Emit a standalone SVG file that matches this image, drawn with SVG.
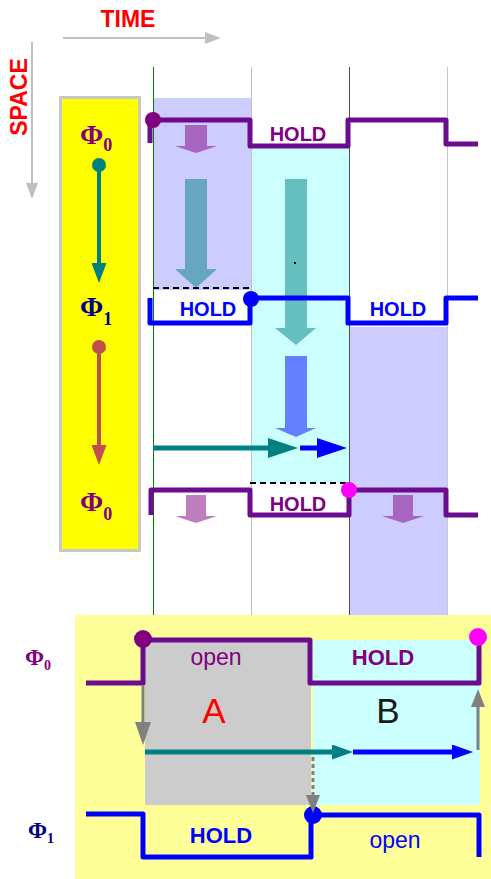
<svg xmlns="http://www.w3.org/2000/svg" width="491" height="879" viewBox="0 0 491 879">
<defs>
<style>
.sans{font-family:"Liberation Sans",Arial,sans-serif}
.serif{font-family:"Liberation Serif","Times New Roman",serif;font-weight:bold}
.hold{font-family:"Liberation Sans",Arial,sans-serif;font-weight:bold;text-anchor:middle}
.open{font-family:"Liberation Sans",Arial,sans-serif;text-anchor:middle;font-size:23px}
.wave{fill:none;stroke-linejoin:round;stroke-linecap:butt}
.pur{stroke:#6c0a90;stroke-width:5}
.blu{stroke:#0000ff;stroke-width:5}
.vl{stroke-width:1;fill:none}
</style>
<marker id="hAxisX" markerUnits="userSpaceOnUse" markerWidth="16" markerHeight="12" viewBox="0 0 16 12" refX="0" refY="6" orient="auto"><path d="M0,0 L16,6 L0,12 z" fill="#c0c0c0"/></marker>
<marker id="hTeal" markerUnits="userSpaceOnUse" markerWidth="30" markerHeight="20" viewBox="0 0 30 20" refX="0" refY="10" orient="auto"><path d="M0,0 L30,10 L0,20 z" fill="#008080"/></marker>
<marker id="hBlue" markerUnits="userSpaceOnUse" markerWidth="30" markerHeight="20" viewBox="0 0 30 20" refX="0" refY="10" orient="auto"><path d="M0,0 L30,10 L0,20 z" fill="#0000ff"/></marker>
<marker id="hTealS" markerUnits="userSpaceOnUse" markerWidth="21" markerHeight="15" viewBox="0 0 21 15" refX="0" refY="7.5" orient="auto"><path d="M0,0 L21,7.5 L0,15 z" fill="#008080"/></marker>
<marker id="hBlueS" markerUnits="userSpaceOnUse" markerWidth="21" markerHeight="15" viewBox="0 0 21 15" refX="0" refY="7.5" orient="auto"><path d="M0,0 L21,7.5 L0,15 z" fill="#0000ff"/></marker>
<marker id="hTealV" markerUnits="userSpaceOnUse" markerWidth="20" markerHeight="15" viewBox="0 0 20 15" refX="0" refY="7.5" orient="auto"><path d="M0,0 L20,7.5 L0,15 z" fill="#008080"/></marker>
<marker id="hRed" markerUnits="userSpaceOnUse" markerWidth="20" markerHeight="15" viewBox="0 0 20 15" refX="0" refY="7.5" orient="auto"><path d="M0,0 L20,7.5 L0,15 z" fill="#c0504d"/></marker>
<marker id="hGray" markerUnits="userSpaceOnUse" markerWidth="23" markerHeight="16" viewBox="0 0 23 16" refX="0" refY="8" orient="auto"><path d="M0,0 L23,8 L0,16 z" fill="#808080"/></marker>
<marker id="hGrayS" markerUnits="userSpaceOnUse" markerWidth="18" markerHeight="14" viewBox="0 0 18 14" refX="0" refY="7" orient="auto"><path d="M0,0 L18,7 L0,14 z" fill="#808080"/></marker>
</defs>
<rect width="491" height="879" fill="#ffffff"/>

<g id="axes">
<text class="sans" x="128" y="27" font-size="23" font-weight="bold" fill="#ff0000" text-anchor="middle">TIME</text>
<text class="sans" transform="translate(27,97) rotate(-90)" font-size="23" font-weight="bold" fill="#ff0000" text-anchor="middle">SPACE</text>
</g>

<g id="regions">
<rect x="153" y="98" width="98" height="192" fill="#ccccff"/>
<rect x="251" y="146" width="98" height="337" fill="#ccffff"/>
<rect x="349" y="327" width="98" height="288" fill="#ccccff"/>
</g>

<g id="timelines">
<line class="vl" x1="153.5" y1="67" x2="153.5" y2="615" stroke="#008000"/>
<line class="vl" x1="251.5" y1="67" x2="251.5" y2="615" stroke="#c0c0c0"/>
<line class="vl" x1="349.5" y1="67" x2="349.5" y2="615" stroke="#505050"/>
<line class="vl" x1="447.5" y1="67" x2="447.5" y2="615" stroke="#c8c8c8"/>
</g>

<g id="legend-box">
<rect x="60.5" y="97.5" width="79" height="453" fill="#ffff00" stroke="#c8c8c8" stroke-width="3"/>
<text class="serif" x="80" y="144" font-size="28" fill="#800080">Φ<tspan font-size="18" dy="7">0</tspan></text>
<text class="serif" x="80" y="316" font-size="28" fill="#000080">Φ<tspan font-size="18" dy="9">1</tspan></text>
<text class="serif" x="80" y="511" font-size="28" fill="#800080">Φ<tspan font-size="18" dy="9">0</tspan></text>
<circle cx="99" cy="165" r="7" fill="#008080"/>
<circle cx="99" cy="347" r="7" fill="#c0504d"/>
</g>

<g id="block-arrows">
<polygon points="185,125 207,125 207,146 217,146 196,153 175,146 185,146" fill="#800080" fill-opacity="0.5"/>
<polygon points="185,179 207,179 207,269 217,269 196,288 175,269 185,269" fill="#008080" fill-opacity="0.5"/>
<polygon points="285,179 307,179 307,328 316,328 296,345 275,328 285,328" fill="#008080" fill-opacity="0.5"/>
<polygon points="285,356 307,356 307,428 316,428 296,437 275,428 285,428" fill="#0000ff" fill-opacity="0.5"/>
<polygon points="186,495 206,495 206,516 217,516 196,523 175,516 186,516" fill="#800080" fill-opacity="0.5"/>
<polygon points="393,495 413,495 413,516 424,516 403,523 382,516 393,516" fill="#800080" fill-opacity="0.5"/>
<rect x="294" y="262" width="2" height="2" fill="#000000"/>
</g>

<g id="phi0-top">
<path class="wave pur" d="M150,143 V120 H250 V146 H348 V120 H446 V144 H478"/>
<circle cx="153" cy="120" r="8" fill="#800080"/>
<text class="hold" x="298" y="141" font-size="20" fill="#800080">HOLD</text>
</g>

<g id="phi1-mid">
<line x1="153" y1="288" x2="250" y2="288" stroke="#000000" stroke-width="2" stroke-dasharray="6,4"/>
<path class="wave blu" d="M150,298 V323 H250 V298 H348 V323 H446 V298 H478"/>
<circle cx="251" cy="299" r="8" fill="#0000ff"/>
<text class="hold" x="208" y="316" font-size="20" fill="#0000ff">HOLD</text>
<text class="hold" x="398" y="316" font-size="20" fill="#0000ff">HOLD</text>
</g>

<g id="phi0-bottom">
<line x1="250" y1="483" x2="349" y2="483" stroke="#000000" stroke-width="2" stroke-dasharray="6,4"/>
<path class="wave pur" d="M151,515 V490 H250 V515 H349 V490 H446 V515 H478"/>
<circle cx="349" cy="490" r="8" fill="#ff00ff"/>
<text class="hold" x="298" y="511" font-size="20" fill="#800080">HOLD</text>
</g>

<g id="panel">
<rect x="75" y="615" width="416" height="264" fill="#ffff99"/>
<rect x="145" y="641" width="166" height="164" fill="#cccccc"/>
<rect x="313" y="640" width="167" height="165" fill="#ccffff"/>
<text class="serif" x="25" y="665" font-size="23" fill="#800080">Φ<tspan font-size="14" dy="5">0</tspan></text>
<text class="serif" x="28" y="838" font-size="23" fill="#000080">Φ<tspan font-size="14" dy="5">1</tspan></text>
<text class="sans" x="214" y="723" font-size="35" fill="#ff0000" text-anchor="middle">A</text>
<text class="sans" x="388" y="723" font-size="35" fill="#1a1a1a" text-anchor="middle">B</text>
</g>

<g id="panel-phi0">
<path class="wave pur" d="M86,683 H143 V640 H310 V683 H479 V637"/>
<circle cx="143" cy="639" r="9" fill="#800080"/>
<circle cx="478" cy="637" r="9" fill="#ff00ff"/>
<text class="open" x="216" y="665" fill="#800080">open</text>
<text class="hold" x="383" y="665" font-size="22" fill="#800080">HOLD</text>
</g>

<g id="panel-phi1">
<path class="wave blu" d="M86,814 H143 V857 H311 V815 H479 V857"/>
<circle cx="313" cy="815" r="9" fill="#0000ff"/>
<text class="hold" x="221" y="843" font-size="22" fill="#0000ff">HOLD</text>
<text class="open" x="395" y="848" fill="#0000ff">open</text>
</g>

<g id="connectors" fill="none">
<line x1="63" y1="38" x2="205" y2="38" stroke="#c0c0c0" stroke-width="2" marker-end="url(#hAxisX)"/>
<line x1="32" y1="42" x2="32" y2="183" stroke="#c0c0c0" stroke-width="2" marker-end="url(#hAxisX)"/>
<line x1="99" y1="165" x2="99" y2="263" stroke="#008080" stroke-width="4" marker-end="url(#hTealV)"/>
<line x1="99" y1="347" x2="99" y2="445" stroke="#c0504d" stroke-width="4" marker-end="url(#hRed)"/>
<line x1="153" y1="448" x2="268" y2="448" stroke="#008080" stroke-width="5" marker-end="url(#hTeal)"/>
<line x1="300" y1="448" x2="317" y2="448" stroke="#0000ff" stroke-width="5" marker-end="url(#hBlue)"/>
<line x1="143" y1="685" x2="143" y2="722" stroke="#808080" stroke-width="3" marker-end="url(#hGray)"/>
<line x1="145" y1="752" x2="332" y2="752" stroke="#008080" stroke-width="5" marker-end="url(#hTealS)"/>
<line x1="353" y1="752" x2="452" y2="752" stroke="#0000ff" stroke-width="5" marker-end="url(#hBlueS)"/>
<line x1="478" y1="750" x2="478" y2="707" stroke="#808080" stroke-width="3" marker-end="url(#hGrayS)"/>
<line x1="313" y1="757" x2="313" y2="795" stroke="#808080" stroke-width="3" stroke-dasharray="4,3" marker-end="url(#hGrayS)"/>
</g>
</svg>
